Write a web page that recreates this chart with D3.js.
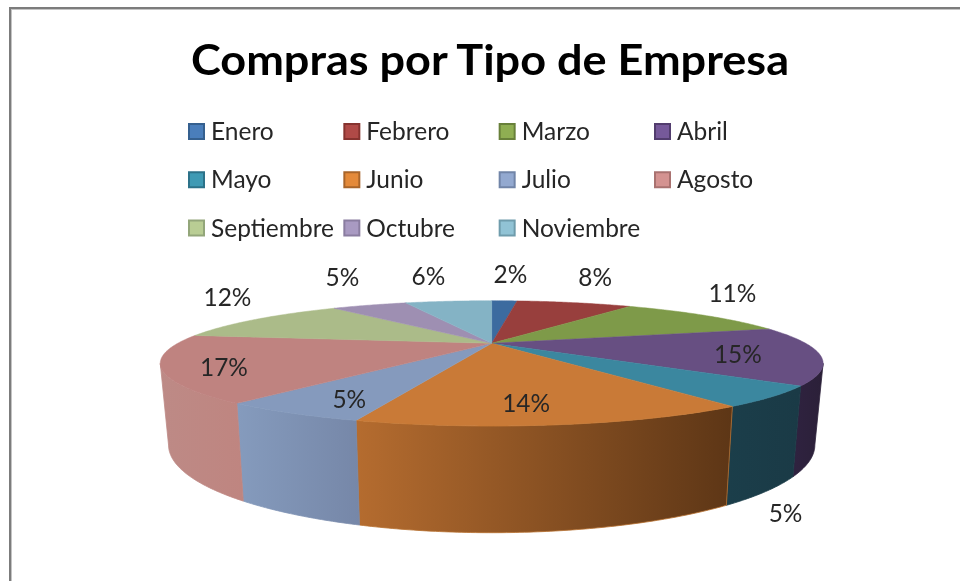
<!DOCTYPE html>
<html><head><meta charset="utf-8">
<script src="https://cdnjs.cloudflare.com/ajax/libs/d3/7.8.5/d3.min.js"></script>
<style>html,body{margin:0;padding:0;background:#fff}svg{display:block;filter:blur(0.45px)}text{font-family:Lato,"Open Sans",sans-serif}</style>
</head><body><svg id="c" width="960" height="581"></svg>
<script>
const title = "Compras por Tipo de Empresa";
const months = ["Enero","Febrero","Marzo","Abril","Mayo","Junio","Julio","Agosto","Septiembre","Octubre","Noviembre"];
const values = [1.7,7.7,11.2,14.9,5.0,14.4,5.49,17.0,11.9,5.0,5.8];
const topColors = ["#3c6b9f","#983f3d","#7e9a49","#674f82","#3b879f","#c97a37","#859abd","#bf8380","#abbb89","#9e8fb2","#84b3c5"];
const legendColors = ["#4a7ebb","#b04a47","#8fae52","#76599a","#3f9ab4","#e48a3a","#93a9d0","#d49391","#b9cd94","#a99ac2","#91c3d5"];
const legendBorders = ["#35608f","#86332f","#68803a","#523d6e","#2c7289","#a9652a","#7185a8","#a97270","#93a67a","#8a7da0","#6f9cac"];
const wallStart = ["#2d5076","#713030","#5f7437","#2f2240","#1b3e4a","#b56c2f","#859bbd","#bd8a86","#8a9a70","#77698a","#628895"];
const wallEnd   = ["#2d5076","#713030","#5f7437","#2b2038","#1a3a46","#5d3616","#7687a8","#bf8580","#8a9a70","#77698a","#628895"];
const labelDx = [6,21,27,-82,13,-33,59,63,-29,-27,-20];
const labelDy = [-25,-24,-21,1,118,-20,-13,1,-21,-27,-24];

const svg = d3.select("#c");
const W = 960, H = 581;

// frame (top + left edge of the pasted chart area)
svg.append("rect").attr("x",0).attr("y",0).attr("width",W).attr("height",H).attr("fill","#fff");
svg.append("rect").attr("x",9).attr("y",7).attr("width",W-9).attr("height",2).attr("fill","#7c7c7c");
svg.append("rect").attr("x",9).attr("y",9).attr("width",W-9).attr("height",1).attr("fill","#c4c4c4");
svg.append("rect").attr("x",9).attr("y",7).attr("width",2).attr("height",H-7).attr("fill","#7c7c7c");
svg.append("rect").attr("x",11).attr("y",9).attr("width",1).attr("height",H-9).attr("fill","#c4c4c4");

svg.append("text").text(title).attr("x",490).attr("y",75).attr("text-anchor","middle")
  .attr("font-size",42).attr("font-weight",700).attr("fill","#000")
  .attr("textLength",598).attr("lengthAdjust","spacingAndGlyphs");

// legend
const colX = d3.scalePoint().domain(d3.range(4)).range([188,654]);
const rowY = d3.scalePoint().domain(d3.range(3)).range([123,219.5]);
const leg = svg.append("g").selectAll("g").data(months).join("g")
  .attr("transform",(d,i)=>`translate(${colX(i%4)},${rowY(Math.floor(i/4))})`);
leg.append("rect").attr("x",1).attr("y",1).attr("width",15).attr("height",15)
  .attr("fill",(d,i)=>legendColors[i]).attr("stroke",(d,i)=>legendBorders[i]).attr("stroke-width",2);
leg.append("text").text(d=>d).attr("x",23).attr("y",17).attr("font-size",24.5).attr("fill","#262626");

// perspective model of the pie disc
const cx = 491.7, cyTop = 343.3, cyBot = 417;
const A = 314, B = 56.2, k = 0.32, shrink = 0.975, stretch = 1.4;
function proj(t){ const X=Math.sin(t), Y=-Math.cos(t), w=1-k*Y; return [A*X/w, B*Y/w]; }
const topPt = t => { const p=proj(t); return [cx+p[0], cyTop+p[1]]; };
const botPt = t => { const p=proj(t); return [cx+shrink*p[0], cyBot+stretch*p[1]]; };
const arcAngles = (a,b) => { const n=Math.max(2,Math.ceil(Math.abs(b-a)/0.01)); return d3.range(n+1).map(i=>a+(b-a)*i/n); };
const line = d3.line();

const pie = d3.pie().sort(null)(values);
const visA = Math.acos(-k), visB = 2*Math.PI-visA;
const defs = svg.append("defs");

// walls
pie.forEach((s,i)=>{
  const a=Math.max(s.startAngle,visA), b=Math.min(s.endAngle,visB);
  if(a>=b) return;
  const up=arcAngles(a,b);
  const pts=up.map(topPt).concat(up.slice().reverse().map(botPt));
  const ex=d3.extent(pts,p=>p[0]);
  const g=defs.append("linearGradient").attr("id","w"+i).attr("gradientUnits","userSpaceOnUse")
    .attr("x1",ex[1]).attr("x2",ex[0]).attr("y1",0).attr("y2",0);
  g.append("stop").attr("offset",0).attr("stop-color",wallEnd[i]);
  g.append("stop").attr("offset",1).attr("stop-color",wallStart[i]);
  svg.append("path").attr("d",line(pts)+"Z").attr("fill",`url(#w${i})`)
    .attr("stroke",i===5?"#b8702f":`url(#w${i})`).attr("stroke-width",0.8);
});

// top face
pie.forEach((s,i)=>{
  const pts=[[cx,cyTop]].concat(arcAngles(s.startAngle,s.endAngle).map(topPt));
  svg.append("path").attr("d",line(pts)+"Z").attr("fill",topColors[i])
    .attr("stroke",topColors[i]).attr("stroke-width",0.5);
});

// labels
pie.forEach((s,i)=>{
  const p=topPt((s.startAngle+s.endAngle)/2);
  svg.append("text").text(Math.round(values[i])+"%")
    .attr("x",p[0]+labelDx[i]).attr("y",p[1]+labelDy[i]+7.5)
    .attr("text-anchor","middle").attr("font-size",24.4).attr("fill","#262626");
});
</script></body></html>
